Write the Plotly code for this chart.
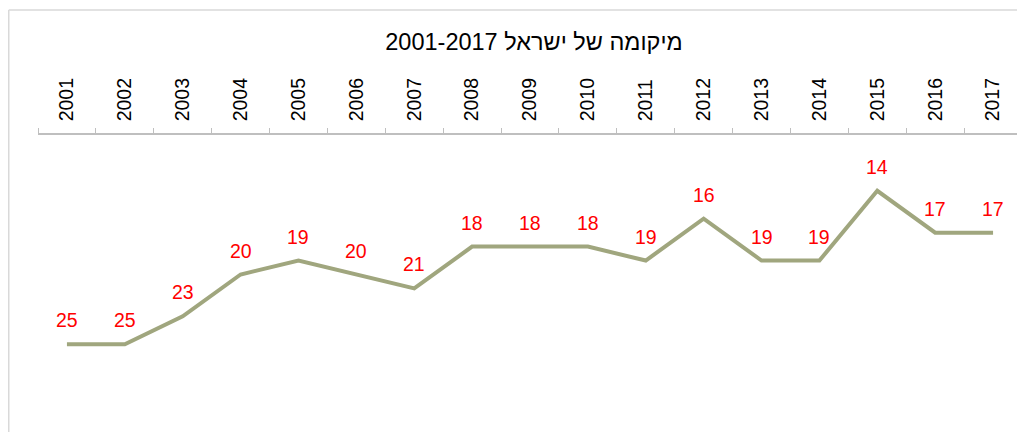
import plotly.graph_objects as go

years = [str(y) for y in range(2001, 2018)]
ranks = [25, 25, 23, 20, 19, 20, 21, 18, 18, 18, 19, 16, 19, 19, 14, 17, 17]
title_text = "2001-2017 מיקומה של ישראל"

# page has an 8px body margin; figure sized to fit the 1025x432 window
W, H = 1017, 424
ML, MR, MT, MB = 30, 3, 127, 18

fig = go.Figure()
fig.add_trace(go.Scatter(
    x=years, y=ranks, mode="lines",
    line=dict(color="#A0A67E", width=4),
    hoverinfo="x+y", showlegend=False,
))

for i, y in enumerate(ranks):
    fig.add_annotation(
        x=i, y=y, text=str(y), showarrow=False, yshift=24,
        font=dict(family="Liberation Sans, Arial", size=19.5, color="#FF0000"),
    )

ph = H - MT - MB
pw = W - ML - MR
def px_to_xp(px):
    return (px - ML) / pw
def py_to_yp(py):
    return (H - MB - py) / ph

border = dict(color="#D9D9D9", width=1.5)
fig.add_shape(type="line", xref="paper", yref="paper",
              x0=px_to_xp(0.75), x1=px_to_xp(W + 5), y0=py_to_yp(2), y1=py_to_yp(2), line=border)
fig.add_shape(type="line", xref="paper", yref="paper",
              x0=px_to_xp(0.75), x1=px_to_xp(0.75), y0=py_to_yp(2), y1=py_to_yp(H + 10), line=border)

fig.update_layout(
    width=W, height=H,
    margin=dict(l=ML, r=MR, t=MT, b=MB),
    paper_bgcolor="white", plot_bgcolor="white",
    font=dict(family="Liberation Sans, Arial", color="#000000"),
    title=dict(text=title_text, x=(526 / W), xanchor="center",
               y=1 - 34 / H, yanchor="middle", yref="container",
               font=dict(size=23.5, color="#000000")),
    xaxis=dict(
        type="category", side="top", tickangle=-90,
        categoryorder="array", categoryarray=years,
        range=[-0.5, len(years) - 0.5], autorange=False,
        tickfont=dict(size=19.5, color="#000000"),
        ticklabelstandoff=8,
        showline=True, linecolor="#BFBFBF", linewidth=1.5,
        ticks="outside", tickson="boundaries", ticklen=5, tickcolor="#BFBFBF",
        showgrid=False, zeroline=False,
    ),
    yaxis=dict(range=[30, 10], autorange=False, visible=False, showgrid=False, zeroline=False),
)

fig.write_html("out.html")
